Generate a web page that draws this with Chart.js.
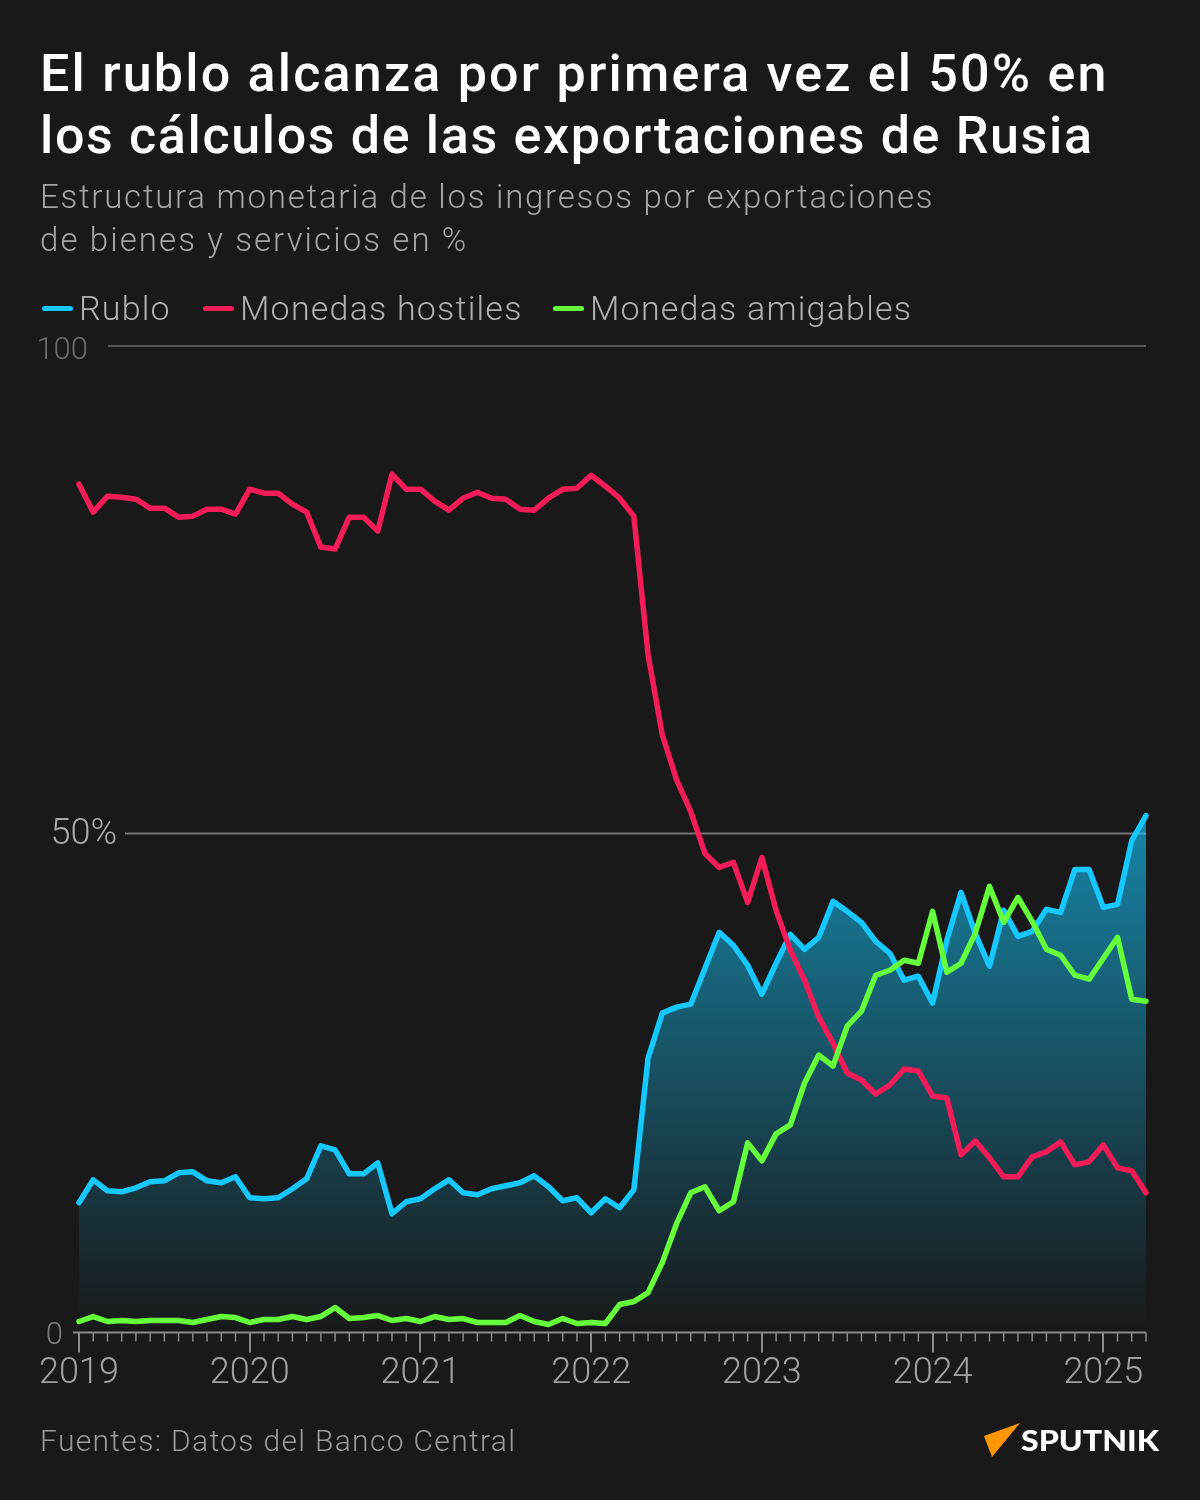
<!DOCTYPE html>
<html lang="es">
<head>
<meta charset="utf-8">
<title>El rublo alcanza por primera vez el 50%</title>
<script src="https://cdn.jsdelivr.net/npm/chart.js@4"></script>
<style>
    html, body { margin: 0; padding: 0; background: #191919; }
    #page { position: relative; width: 1200px; height: 1500px; overflow: hidden; background: #191919; font-family: Roboto, sans-serif; }
    #page div, #page span { position: absolute; white-space: nowrap; }
    #chart { position: absolute; left: 0; top: 0; }
    .title { left: 40px; color: #fff; font-size: 52px; font-weight: 500; line-height: 62px; }
    .sub { left: 40px; color: #a4a4a4; font-size: 33px; font-weight: 300; line-height: 43px; }
    .legend-text { top: 288px; color: #b0b0b0; font-size: 34px; font-weight: 300; line-height: 40px; letter-spacing: 1.2px; }
    .legend-line { top: 306px; width: 31px; height: 5px; border-radius: 3px; }
    .source { left: 40px; top: 1422px; color: #9a9a9a; font-size: 30px; font-weight: 300; line-height: 38px; letter-spacing: 1.33px; }
    #logo { position: absolute; left: 980px; top: 1418px; }
</style>
</head>
<body>
<div id="page">
    <canvas id="chart" width="1200" height="1500"></canvas>
    <div class="title" style="top:43px;letter-spacing:2.2px">El rublo alcanza por primera vez el 50% en</div>
    <div class="title" style="top:105px;letter-spacing:1.65px">los cálculos de las exportaciones de Rusia</div>
    <div class="sub" style="top:175px;letter-spacing:1.75px">Estructura monetaria de los ingresos por exportaciones</div>
    <div class="sub" style="top:218px;letter-spacing:2.1px">de bienes y servicios en %</div>

    <span class="legend-line" style="left:42px;background:#15c8ff"></span>
    <div class="legend-text" style="left:79px">Rublo</div>
    <span class="legend-line" style="left:203px;background:#f21c58"></span>
    <div class="legend-text" style="left:240px">Monedas hostiles</div>
    <span class="legend-line" style="left:553px;background:#66ff3c"></span>
    <div class="legend-text" style="left:590px">Monedas amigables</div>

    <div class="source">Fuentes: Datos del Banco Central</div>
    <svg id="logo" width="190" height="50">
        <polygon points="4,18 40,5 12,39" fill="#ff9600"></polygon>
        <text x="41" y="33" font-family="Lato, sans-serif" font-weight="900" font-size="29" fill="#fff" textLength="138" lengthAdjust="spacingAndGlyphs">SPUTNIK</text>
    </svg>
</div>

<script>
// Monthly shares, Jan 2019 - Apr 2025
const startYear = 2019;
const yTickValues = [0, 50, 98.85];
const yTickLabels = ["0", "50%", "100"];

const rublo = [
    13.0, 15.3, 14.2, 14.1, 14.5, 15.1, 15.2, 16.0, 16.1, 15.2, 15.0, 15.6,
    13.5, 13.4, 13.5, 14.4, 15.4, 18.7, 18.3, 15.9, 15.9, 17.0, 11.9, 13.1,
    13.4, 14.4, 15.3, 14.0, 13.8, 14.4, 14.7, 15.0, 15.7, 14.6, 13.2, 13.5,
    12.0, 13.4, 12.5, 14.3, 27.5, 32.0, 32.6, 32.9, 36.5, 40.1, 38.8, 36.8,
    33.9, 37.0, 39.9, 38.4, 39.6, 43.2, 42.2, 41.1, 39.2, 38.0, 35.3, 35.7,
    33.0, 39.3, 44.1, 40.0, 36.7, 42.3, 39.7, 40.2, 42.4, 42.1, 46.4, 46.4,
    42.6, 42.9, 49.3, 51.8
];
const hostiles = [
    85.0, 82.2, 83.8, 83.7, 83.5, 82.6, 82.6, 81.7, 81.8, 82.5, 82.5, 82.0,
    84.5, 84.1, 84.1, 83.0, 82.2, 78.7, 78.5, 81.7, 81.7, 80.3, 86.0, 84.5,
    84.5, 83.3, 82.4, 83.6, 84.2, 83.6, 83.5, 82.5, 82.4, 83.6, 84.5, 84.6,
    85.9, 84.8, 83.6, 81.8, 67.9, 59.9, 55.4, 52.2, 48.0, 46.6, 47.1, 43.1,
    47.6, 42.3, 38.3, 35.3, 31.6, 29.0, 26.0, 25.3, 23.9, 24.8, 26.4, 26.2,
    23.7, 23.5, 17.8, 19.2, 17.5, 15.6, 15.6, 17.6, 18.1, 19.1, 16.8, 17.1,
    18.8, 16.5, 16.2, 14.0
];
const amigables = [
    1.1, 1.6, 1.1, 1.2, 1.1, 1.2, 1.2, 1.2, 1.0, 1.3, 1.6, 1.5,
    1.0, 1.3, 1.3, 1.6, 1.3, 1.6, 2.5, 1.4, 1.5, 1.7, 1.2, 1.4,
    1.1, 1.6, 1.3, 1.4, 1.0, 1.0, 1.0, 1.7, 1.1, 0.8, 1.4, 0.9,
    1.0, 0.9, 2.8, 3.1, 4.0, 7.0, 10.9, 14.0, 14.6, 12.2, 13.1, 19.0,
    17.2, 19.9, 20.8, 25.0, 27.8, 26.7, 30.7, 32.2, 35.8, 36.3, 37.3, 37.0,
    42.2, 36.1, 37.0, 40.0, 44.7, 41.1, 43.6, 41.2, 38.4, 37.8, 35.8, 35.4,
    37.5, 39.6, 33.4, 33.2
];

const labels = rublo.map((_, i) => i % 12 === 0 ? String(startYear + i / 12) : "");

// y axis labels and lines start at different spots, and the minor month ticks are shorter
const axisDecor = {
    id: "axisDecor",
    beforeDatasetsDraw(chart) {
        const { ctx, chartArea, scales: { x, y } } = chart;
        const lineStart = [73, 125, 108];
        const lineColor = ["#8a8a8a", "#777777", "#555555"];
        const textRight = [63, 117, 88];
        const textColor = ["#7a7a7a", "#aaaaaa", "#6a6a6a"];
        const textSize = [31, 36, 31];
        const textShift = [4, 1, 5];
        ctx.save();
        ctx.lineWidth = 2;
        ctx.textAlign = "right";
        ctx.textBaseline = "middle";
        yTickValues.forEach((v, i) => {
            const py = y.getPixelForValue(v);
            ctx.strokeStyle = lineColor[i];
            ctx.beginPath();
            ctx.moveTo(lineStart[i], py);
            ctx.lineTo(chartArea.right, py);
            ctx.stroke();
            ctx.font = `300 ${textSize[i]}px Roboto, sans-serif`;
            ctx.fillStyle = textColor[i];
            ctx.fillText(yTickLabels[i], textRight[i], py + textShift[i]);
        });
        ctx.lineWidth = 1.5;
        ctx.strokeStyle = "#8a8a8a";
        labels.forEach((label, i) => {
            if (label) return;
            const px = x.getPixelForValue(i);
            ctx.beginPath();
            ctx.moveTo(px, chartArea.bottom);
            ctx.lineTo(px, chartArea.bottom + 9);
            ctx.stroke();
        });
        ctx.restore();
    }
};

function areaGradient(context) {
    const chart = context.chart;
    if (!chart.chartArea) return "transparent";
    const top = chart.scales.y.getPixelForValue(Math.max(...rublo));
    const g = chart.ctx.createLinearGradient(0, top, 0, chart.chartArea.bottom);
    g.addColorStop(0, "rgba(21,200,255,0.62)");
    g.addColorStop(1, "rgba(21,200,255,0)");
    return g;
}

function lineDataset(label, data, color, order) {
    return {
        label: label,
        data: data,
        borderColor: color,
        borderWidth: 5.5,
        borderCapStyle: "round",
        borderJoinStyle: "round",
        pointRadius: 0,
        tension: 0,
        clip: false,
        fill: false,
        order: order
    };
}

const rubloSet = lineDataset("Rublo", rublo, "#15c8ff", 3);
rubloSet.fill = "origin";
rubloSet.backgroundColor = areaGradient;

new Chart(document.getElementById("chart").getContext("2d"), {
    type: "line",
    data: {
        labels: labels,
        datasets: [
            rubloSet,
            lineDataset("Monedas hostiles", hostiles, "#f21c58", 2),
            lineDataset("Monedas amigables", amigables, "#66ff3c", 1)
        ]
    },
    plugins: [axisDecor],
    options: {
        responsive: false,
        animation: false,
        layout: { padding: { left: 79, right: 54, top: 346, bottom: 99.5 } },
        plugins: { legend: { display: false }, tooltip: { enabled: false } },
        scales: {
            x: {
                offset: false,
                afterFit(scale) { scale.height = 68; },
                border: { display: false },
                grid: {
                    drawOnChartArea: false,
                    tickLength: 20,
                    lineWidth: 2,
                    tickColor: ctx => labels[ctx.index] ? "#8a8a8a" : "transparent"
                },
                ticks: {
                    autoSkip: false,
                    maxRotation: 0,
                    padding: 0,
                    color: "#a0a0a0",
                    font: { family: "Roboto, sans-serif", size: 36, weight: "300" },
                    callback: (value, i) => labels[i]
                }
            },
            y: {
                display: false,
                min: 0,
                max: 98.85
            }
        }
    }
});
</script>
</body>
</html>
